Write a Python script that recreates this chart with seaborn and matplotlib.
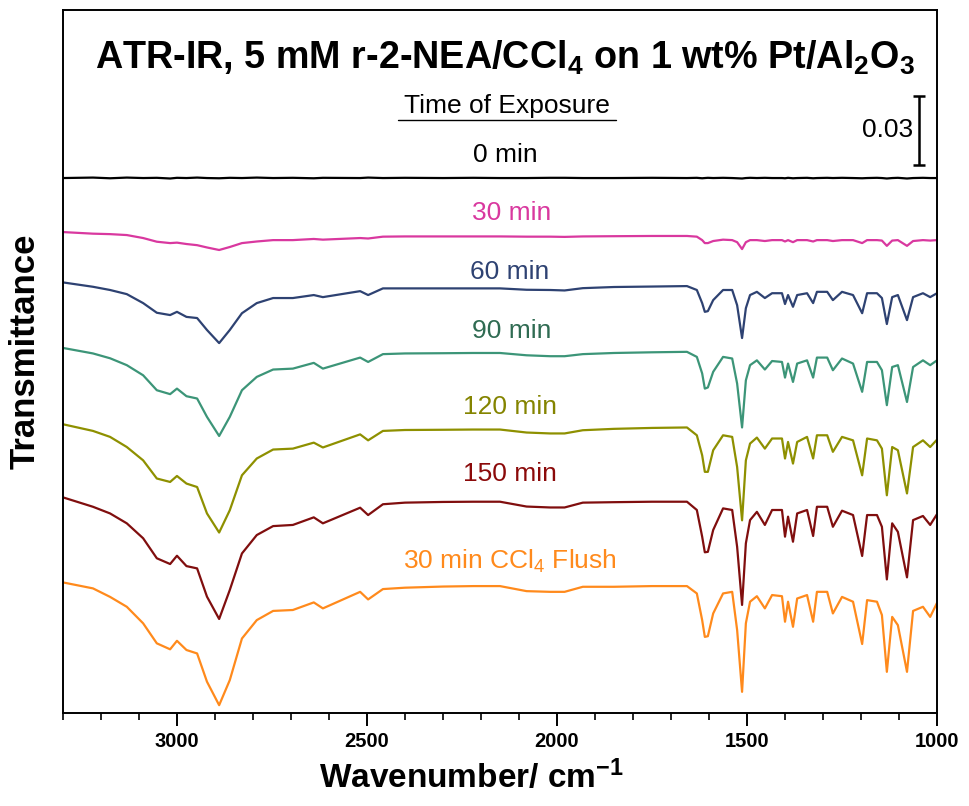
import numpy as np
import pandas as pd
import matplotlib
matplotlib.use("Agg")
import matplotlib.pyplot as plt
import seaborn as sns

# ---------------- data (values in units of 0.001 transmittance) ----------------
wavenumber = [3300, 3221, 3176, 3132, 3089, 3053, 3018, 3000, 2975, 2947,
              2921, 2889, 2861, 2829, 2790, 2747, 2695, 2640, 2616, 2518,
              2497, 2458, 2400, 2300, 2220, 2150, 2080, 2018, 1980, 1932,
              1850, 1750, 1658, 1632, 1618, 1611, 1603,
              1589, 1563, 1539, 1526, 1513, 1503, 1492, 1474, 1453, 1434,
              1408, 1400, 1392, 1379, 1368, 1342, 1326, 1316, 1289, 1274,
              1250, 1221, 1197, 1184, 1158, 1145, 1132, 1118, 1103, 1079,
              1063, 1037, 1018, 1000]

t0 = [0.0, 0.2, -0.1, 0.2, 0.0, 0.1, -0.2, 0.1, 0.0, 0.2,
      0.0, -0.1, 0.1, 0.0, 0.2, 0.0, 0.1, -0.1, 0.1, 0.0,
      0.2, 0.0, 0.1, 0.0, 0.1, 0.0, 0.0, 0.1, 0.1, 0.0,
      0.0, 0.1, 0.0, 0.1, -0.1, 0.0, 0.1,
      0.0, 0.1, 0.0, -0.1, -0.2, 0.0, 0.1, 0.0, 0.1, 0.0,
      0.0, -0.1, 0.1, -0.1, 0.0, 0.1, -0.1, 0.0, 0.1, 0.0,
      0.1, 0.0, -0.1, 0.0, 0.1, 0.0, -0.2, 0.0, 0.1, -0.2,
      0.0, 0.1, 0.0, 0.0]

t30 = [0.0, -0.7, -0.9, -1.3, -2.6, -4.2, -4.8, -4.6, -5.2, -5.7,
       -6.7, -7.8, -6.5, -4.8, -4.1, -3.5, -3.5, -3.0, -3.3, -2.6,
       -2.8, -2.0, -1.9, -1.9, -1.9, -1.9, -2.0, -2.0, -2.1, -1.9,
       -1.8, -1.7, -1.7, -2.0, -3.5, -4.8, -4.8,
       -3.9, -3.3, -3.5, -4.4, -7.4, -4.4, -3.5, -3.5, -3.9, -3.5,
       -3.5, -4.1, -3.5, -4.4, -3.5, -3.5, -4.1, -3.5, -3.5, -3.9,
       -3.5, -3.5, -4.8, -3.5, -3.5, -3.7, -6.0, -3.7, -3.5, -6.0,
       -3.9, -3.5, -3.7, -3.5]

t60 = [0.0, -1.9, -3.3, -5.1, -9.0, -13.2, -14.2, -12.8, -15.0, -15.5,
       -20.7, -26.4, -20.7, -13.4, -9.0, -6.8, -6.8, -5.5, -6.4, -3.8,
       -5.5, -2.6, -2.6, -2.6, -2.6, -2.6, -3.2, -3.3, -3.5, -2.5,
       -2.0, -1.8, -1.6, -3.3, -9.0, -12.8, -12.5,
       -7.7, -3.3, -3.3, -9.9, -24.2, -11.2, -5.5, -4.1, -6.8, -4.7,
       -4.7, -9.4, -5.5, -10.6, -5.5, -4.7, -9.0, -4.1, -4.1, -7.7,
       -4.1, -5.5, -13.4, -4.7, -4.7, -6.8, -18.1, -6.4, -5.5, -16.4,
       -6.4, -4.7, -6.4, -4.7]

t90 = [0.0, -2.4, -4.5, -7.5, -11.9, -18.4, -20.1, -17.7, -21.0, -22.0,
       -30.0, -38.3, -30.0, -18.4, -12.6, -9.4, -9.0, -6.5, -9.0, -4.2,
       -6.1, -2.7, -2.4, -2.3, -2.2, -2.2, -3.2, -3.6, -3.6, -2.7,
       -2.2, -1.9, -1.7, -3.9, -11.1, -17.7, -17.2,
       -10.4, -3.9, -4.6, -15.5, -34.6, -14.1, -7.5, -5.4, -9.4, -5.7,
       -6.1, -12.9, -6.8, -14.8, -6.8, -5.4, -12.9, -4.2, -4.2, -9.7,
       -4.6, -6.8, -19.1, -6.1, -6.1, -9.7, -24.9, -8.3, -7.5, -23.5,
       -8.3, -5.4, -7.5, -5.4]

t120 = [0.0, -2.9, -5.5, -9.9, -15.7, -23.6, -25.1, -22.5, -25.8, -27.3,
        -38.8, -47.1, -37.4, -22.2, -14.9, -11.0, -10.6, -8.0, -10.1, -4.4,
        -7.0, -2.9, -2.5, -2.4, -2.3, -2.3, -3.6, -4.0, -4.0, -2.6,
        -2.0, -1.6, -1.4, -4.8, -13.5, -20.7, -20.7,
        -11.3, -4.8, -5.5, -18.6, -41.8, -15.7, -8.4, -5.8, -10.6, -6.2,
        -6.2, -14.9, -7.7, -17.1, -7.7, -5.5, -14.9, -4.8, -4.8, -12.0,
        -5.5, -7.0, -22.2, -6.2, -7.0, -10.6, -30.9, -9.9, -11.3, -30.1,
        -9.9, -7.0, -9.9, -6.7]

t150 = [0.0, -4.1, -7.0, -11.3, -17.8, -26.5, -29.0, -25.4, -29.9, -30.9,
        -43.2, -52.9, -40.3, -24.4, -16.4, -12.5, -12.0, -8.7, -11.3, -4.5,
        -7.7, -3.0, -2.3, -2.0, -1.9, -1.9, -4.0, -4.4, -4.4, -2.3,
        -2.1, -1.9, -1.9, -5.5, -17.1, -23.9, -23.7,
        -14.2, -4.8, -5.5, -21.5, -46.8, -20.0, -9.9, -6.3, -12.0, -5.5,
        -5.5, -17.1, -8.4, -19.3, -7.0, -5.5, -16.8, -4.1, -4.1, -12.8,
        -5.8, -7.7, -25.5, -7.7, -7.7, -12.8, -35.7, -11.3, -15.0, -34.8,
        -9.9, -8.1, -12.0, -7.3]

t_flush = [0.0, -2.6, -6.3, -10.6, -17.8, -26.5, -29.1, -25.4, -29.4, -30.9,
           -43.2, -53.4, -42.5, -24.4, -16.4, -12.4, -12.0, -8.7, -11.3, -4.1,
           -7.4, -2.9, -2.3, -1.8, -1.6, -1.6, -3.8, -4.1, -4.1, -1.9,
           -1.9, -1.6, -1.6, -4.8, -16.4, -23.7, -23.4,
           -13.5, -4.8, -4.1, -20.7, -47.6, -17.8, -8.4, -6.0, -11.3, -5.5,
           -6.0, -17.1, -8.4, -19.3, -7.0, -5.5, -17.1, -4.1, -4.1, -13.5,
           -6.3, -8.4, -26.8, -7.7, -8.4, -14.2, -38.9, -15.0, -18.6, -38.9,
           -12.4, -10.6, -15.0, -8.9]

labels = ["0 min", "30 min", "60 min", "90 min", "120 min", "150 min",
          "30 min CCl$_4$ Flush"]
stack_offsets = [0.0, -23.5, -45.4, -73.9, -107.1, -138.9, -175.9]
line_colors = ["#000000", "#D9389F", "#2E4272", "#3C9578", "#8E9000",
               "#800E0E", "#FF8A1C"]
text_colors = ["#000000", "#D9389F", "#2E4272", "#2F6B52", "#848400",
               "#8B0A0A", "#FF8A1C"]
scale_bar_value = 30.0  # 0.03 in units of 0.001

# ---------------- build table ----------------
series = [t0, t30, t60, t90, t120, t150, t_flush]
frames = []
for lab, vals, off in zip(labels, series, stack_offsets):
    frames.append(pd.DataFrame({"wn": wavenumber,
                                "T": np.array(vals) + off,
                                "trace": lab}))
df = pd.concat(frames, ignore_index=True)

# ---------------- style ----------------
sns.set_theme(style="ticks")
plt.rcParams["font.family"] = ["Liberation Sans", "DejaVu Sans"]
plt.rcParams["mathtext.fontset"] = "custom"
plt.rcParams["mathtext.rm"] = "Liberation Sans"
plt.rcParams["mathtext.it"] = "Liberation Sans:italic"
plt.rcParams["mathtext.bf"] = "Liberation Sans:bold"
plt.rcParams["mathtext.default"] = "rm"
plt.rcParams["text.color"] = "black"
plt.rcParams["axes.labelcolor"] = "black"
plt.rcParams["xtick.color"] = "black"
plt.rcParams["ytick.color"] = "black"

fig = plt.figure(figsize=(9.7, 8.06), dpi=100)
ax = fig.add_axes([0.0649, 0.1154, 0.9011, 0.8722])

sns.lineplot(data=df, x="wn", y="T", hue="trace", palette=line_colors,
             hue_order=labels, estimator=None, legend=False, lw=1.6, ax=ax)

ax.set_xlim(3300, 1000)
ax.set_ylim(-232.7, 73.1)
ax.set_yticks([])
ax.set_xticks([3000, 2500, 2000, 1500, 1000])
ax.set_xticks(np.arange(1000, 3301, 100), minor=True)
ax.tick_params(axis="x", which="major", direction="out", length=9, width=1.4,
               labelsize=14.5, pad=5)
ax.tick_params(axis="x", which="minor", direction="out", length=5, width=1.2)
for lbl in ax.get_xticklabels():
    lbl.set_fontweight("bold")
for sp in ax.spines.values():
    sp.set_linewidth(1.4)
    sp.set_color("black")

ax.set_xlabel("Wavenumber/ cm$^\\mathbf{-1}$", fontsize=24, fontweight="bold")
ax.xaxis.set_label_coords(0.467, -0.066)
ax.set_ylabel("Transmittance", fontsize=25, fontweight="bold")
ax.yaxis.set_label_coords(-0.024, 0.515)

# title inside the axes
ax.text(0.506, 0.932,
        "ATR-IR, 5 mM r-2-NEA/CCl$_\\mathbf{4}$ on 1 wt% Pt/Al$_\\mathbf{2}$O$_\\mathbf{3}$",
        transform=ax.transAxes, ha="center", va="center", fontsize=27.2,
        fontweight="bold")

# "Time of Exposure" underlined header
ax.text(0.508, 0.864, "Time of Exposure", transform=ax.transAxes,
        ha="center", va="center", fontsize=19)
ax.plot([0.383, 0.633], [0.8435, 0.8435], transform=ax.transAxes,
        color="black", lw=1.0)

# trace labels
label_pos = [(0.506, 0.794), (0.513, 0.711), (0.511, 0.627), (0.513, 0.543),
             (0.511, 0.435), (0.511, 0.340), (0.511, 0.216)]
for (xp, yp), lab, col in zip(label_pos, labels, text_colors):
    ax.text(xp, yp, lab, transform=ax.transAxes, ha="center", va="center",
            fontsize=19, color=col)

# scale bar (0.03)
ax.errorbar([1047], [20.7], yerr=scale_bar_value / 2, color="black",
            capsize=4, elinewidth=1.8, capthick=1.8, fmt="none")
ax.text(1064, 20.7, "0.03", ha="right", va="center", fontsize=19)

fig.savefig("out.png", dpi=100)
